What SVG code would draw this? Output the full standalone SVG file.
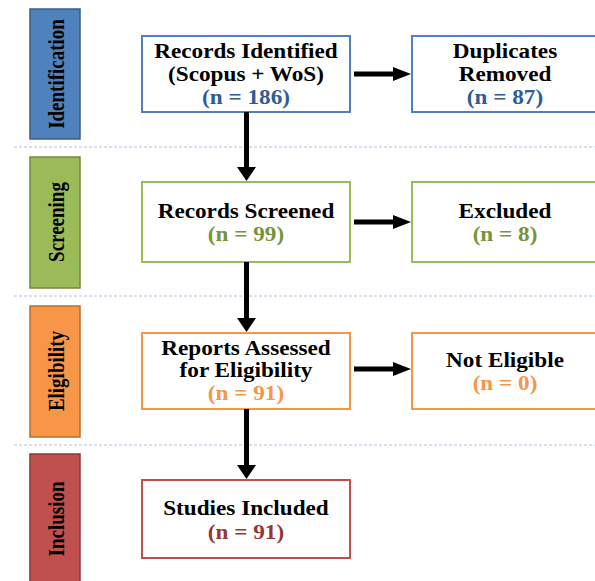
<svg xmlns="http://www.w3.org/2000/svg" width="595" height="581" viewBox="0 0 595 581">
<style>
text{font-family:"Liberation Serif","Times New Roman",serif;font-weight:bold;text-anchor:middle}
.t{font-size:20px;fill:#000}
.side{font-size:19px;fill:#000}
.box{fill:#fff;stroke-width:2}
.sep{stroke:#a9c2e6;stroke-width:1;stroke-dasharray:3 2;fill:none}
.ln{stroke:#000;stroke-width:5;fill:none}
.hd{fill:#000}
</style>
<rect width="595" height="581" fill="#fff"/>
<g id="separators">
<line class="sep" x1="14" y1="147" x2="595" y2="147"/>
<line class="sep" x1="14" y1="296" x2="595" y2="296"/>
<line class="sep" x1="14" y1="445" x2="595" y2="445"/>
</g>
<g id="stage-identification">
<rect x="30" y="9" width="50" height="130" fill="#4f81bd" stroke="#385d8a" stroke-width="1.5"/>
<text class="side" transform="translate(64,74) scale(1.16,1) rotate(-90)">Identification</text>
</g>
<g id="stage-screening">
<rect x="30" y="157" width="50" height="131" fill="#9bbb59" stroke="#71893f" stroke-width="1.5"/>
<text class="side" transform="translate(64,222) scale(1.16,1) rotate(-90)">Screening</text>
</g>
<g id="stage-eligibility">
<rect x="30" y="306" width="50" height="131" fill="#f79646" stroke="#b66d31" stroke-width="1.5"/>
<text class="side" transform="translate(64,371) scale(1.16,1) rotate(-90)">Eligibility</text>
</g>
<g id="stage-inclusion">
<rect x="30" y="454" width="50" height="140" fill="#c0504d" stroke="#8c3836" stroke-width="1.5"/>
<text class="side" transform="translate(64,519) scale(1.16,1) rotate(-90)">Inclusion</text>
</g>
<g id="records-identified">
<rect class="box" x="142" y="36" width="208" height="76" stroke="#4f81bd"/>
<g transform="translate(246,0) scale(1.16,1)">
<text class="t" x="0" y="58">Records Identified</text>
<text class="t" x="0" y="81">(Scopus + WoS)</text>
<text class="t" x="0" y="104" fill="#2f5c97" style="fill:#2f5c97">(n = 186)</text>
</g>
</g>
<g id="duplicates-removed">
<rect class="box" x="412" y="36" width="190" height="76" stroke="#4f81bd"/>
<g transform="translate(505,0) scale(1.16,1)">
<text class="t" x="0" y="58">Duplicates</text>
<text class="t" x="0" y="81">Removed</text>
<text class="t" x="0" y="104" style="fill:#2f5c97">(n = 87)</text>
</g>
</g>
<g id="records-screened">
<rect class="box" x="142" y="182" width="208" height="80" stroke="#9bbb59"/>
<g transform="translate(246,0) scale(1.16,1)">
<text class="t" x="0" y="218">Records Screened</text>
<text class="t" x="0" y="241" style="fill:#77933c">(n = 99)</text>
</g>
</g>
<g id="excluded">
<rect class="box" x="412" y="182" width="190" height="80" stroke="#9bbb59"/>
<g transform="translate(505,0) scale(1.16,1)">
<text class="t" x="0" y="218">Excluded</text>
<text class="t" x="0" y="241" style="fill:#77933c">(n = 8)</text>
</g>
</g>
<g id="reports-assessed">
<rect class="box" x="142" y="333" width="208" height="76" stroke="#f79646"/>
<g transform="translate(246,0) scale(1.16,1)">
<text class="t" x="0" y="355">Reports Assessed</text>
<text class="t" x="0" y="377">for Eligibility</text>
<text class="t" x="0" y="400" style="fill:#f79646">(n = 91)</text>
</g>
</g>
<g id="not-eligible">
<rect class="box" x="412" y="333" width="190" height="76" stroke="#f79646"/>
<g transform="translate(505,0) scale(1.16,1)">
<text class="t" x="0" y="367">Not Eligible</text>
<text class="t" x="0" y="390" style="fill:#f79646">(n = 0)</text>
</g>
</g>
<g id="studies-included">
<rect class="box" x="142" y="480" width="208" height="78" stroke="#c0504d"/>
<g transform="translate(246,0) scale(1.16,1)">
<text class="t" x="0" y="515">Studies Included</text>
<text class="t" x="0" y="539" style="fill:#953735">(n = 91)</text>
</g>
</g>
<g id="connectors">
<line class="ln" x1="246.5" y1="112" x2="246.5" y2="168"/>
<polygon class="hd" points="237,167 256,167 246.5,181"/>
<line class="ln" x1="246.5" y1="262" x2="246.5" y2="319"/>
<polygon class="hd" points="237,318 256,318 246.5,332"/>
<line class="ln" x1="246.5" y1="409" x2="246.5" y2="466"/>
<polygon class="hd" points="237,465 256,465 246.5,479"/>
<line class="ln" x1="354" y1="74" x2="395" y2="74"/>
<polygon class="hd" points="393,67 411,74 393,81"/>
<line class="ln" x1="354" y1="222" x2="395" y2="222"/>
<polygon class="hd" points="393,215 411,222 393,229"/>
<line class="ln" x1="354" y1="369" x2="395" y2="369"/>
<polygon class="hd" points="393,362 411,369 393,376"/>
</g>
</svg>
